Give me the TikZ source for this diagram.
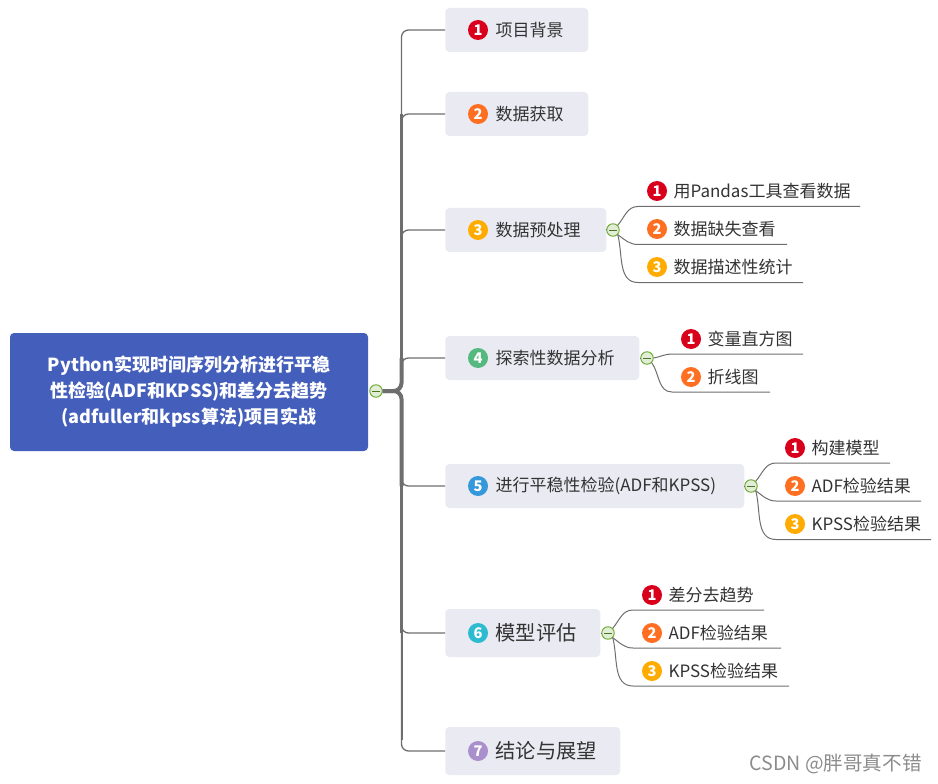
\documentclass[tikz,border=0pt]{standalone}
\usepackage{xcolor}
\usepackage{fontspec}
\setmainfont{Noto Sans CJK SC}
\usetikzlibrary{positioning}

\definecolor{rootblue}{HTML}{445FBB}
\definecolor{topicfill}{HTML}{EAEAF3}
\definecolor{linegray}{HTML}{6E6E6E}
\definecolor{hubgreen}{HTML}{6AA82F}
\definecolor{hubfill}{HTML}{E2EDD8}
\definecolor{textgray}{HTML}{333333}
\definecolor{badgered}{HTML}{D9001B}
\definecolor{badgeorange}{HTML}{FF6F21}
\definecolor{badgeamber}{HTML}{FFAB00}
\definecolor{badgegreen}{HTML}{55B97F}
\definecolor{badgeblue}{HTML}{3498DB}
\definecolor{badgeteal}{HTML}{2DBBD0}
\definecolor{badgepurple}{HTML}{A98FCB}

\def\px{0.75pt}

\tikzset{
    topic/.style={fill=topicfill, rounded corners=3pt, anchor=west, inner sep=0pt, minimum height=44*\px},
    badge/.style={circle, inner sep=0pt, minimum size=20*\px, text=white, font=\fontsize{11}{11}\selectfont\bfseries},
    toptext/.style={right=7*\px of #1, inner sep=0pt, text=textgray, font=\fontsize{12.75}{14}\selectfont},
    bigtext/.style={right=7*\px of #1, inner sep=0pt, text=textgray, font=\fontsize{15.2}{17}\selectfont},
    subtext/.style={right=6*\px of #1, inner sep=0pt, text=textgray, font=\fontsize{12.75}{14}\selectfont},
    hub/.style={circle, draw=hubgreen, fill=hubfill, line width=0.7pt, inner sep=0pt, minimum size=12.5*\px,
        path picture={\draw[hubgreen!70!black, line width=0.7pt] ([xshift=-4*\px]path picture bounding box.center) -- ([xshift=4*\px]path picture bounding box.center);}},
    branch/.style={draw=linegray, line width=1.3*\px, rounded corners=7*\px},
    twig/.style={draw=linegray, line width=1*\px},
}

\begin{document}
\begin{tikzpicture}[x=0.75pt, y=-0.75pt]

    \useasboundingbox (0,0) rectangle (938,784);

    % root
    \node (root) [fill=rootblue, rounded corners=3pt, minimum width=358*\px, minimum height=118*\px, inner sep=0pt,
        text=white, align=center, font=\fontsize{13.5}{19.5}\selectfont\bfseries] at (189,392)
        {Python实现时间序列分析进行平稳\\性检验(ADF和KPSS)和差分去趋势\\(adfuller和kpss算法)项目实战};
    \node (hub0) [hub] at (376,391) {};

    % topics
    \node (p1) [topic, minimum width=143*\px] at (445,30) {};
    \node (p2) [topic, minimum width=143*\px] at (445,114) {};
    \node (p3) [topic, minimum width=161*\px] at (445,230) {};
    \node (p4) [topic, minimum width=194*\px] at (445,358) {};
    \node (p5) [topic, minimum width=299*\px] at (445,486) {};
    \node (p6) [topic, minimum width=155*\px, minimum height=48*\px] at (445,633) {};
    \node (p7) [topic, minimum width=175*\px, minimum height=48*\px] at (445,751) {};

    \node (b1) [badge, fill=badgered] at (478,30) {1};
    \node (b2) [badge, fill=badgeorange] at (478,114) {2};
    \node (b3) [badge, fill=badgeamber] at (478,230) {3};
    \node (b4) [badge, fill=badgegreen] at (478,358) {4};
    \node (b5) [badge, fill=badgeblue] at (478,486) {5};
    \node (b6) [badge, fill=badgeteal] at (478,633) {6};
    \node (b7) [badge, fill=badgepurple] at (478,751) {7};

    \node (t1) [toptext=b1] {项目背景};
    \node (t2) [toptext=b2] {数据获取};
    \node (t3) [toptext=b3] {数据预处理};
    \node (t4) [toptext=b4] {探索性数据分析};
    \node (t5) [toptext=b5] {进行平稳性检验(ADF和KPSS)};
    \node (t6) [bigtext=b6] {模型评估};
    \node (t7) [bigtext=b7] {结论与展望};

    % trunk, thinner towards the ends
    \draw [linegray, line width=4*\px, rounded corners=8*\px] (hub0.east) -| (401.5,358);
    \draw [linegray, line width=4*\px, rounded corners=8*\px] (hub0.east) -| (401.5,486);
    \draw [linegray, line width=3.2*\px] (401.5,359) -- (401.5,230);
    \draw [linegray, line width=2.4*\px] (401.5,231) -- (401.5,114);
    \draw [linegray, line width=3*\px] (401.5,485) -- (401.5,633);
    \draw [linegray, line width=2*\px] (401.5,632) -- (401.5,740);
    \draw [linegray, line width=1.8*\px] (401.5,115) -- (401.5,40);
    \draw [branch] (401.5,120) |- (p1.west);
    \draw [branch] (401.5,125) |- (p2.west);
    \draw [branch] (401.5,240) |- (p3.west);
    \draw [branch] (401.5,370) |- (p4.west);
    \draw [branch] (401.5,470) |- (p5.west);
    \draw [branch] (401.5,620) |- (p6.west);
    \draw [branch] (401.5,625) |- (p7.west);

    % group 3
    \node (hub3) [hub] at (613,230) {};
    \node (b31) [badge, fill=badgered] at (657,191) {1};
    \node (b32) [badge, fill=badgeorange] at (657,229) {2};
    \node (b33) [badge, fill=badgeamber] at (657,267) {3};
    \node (t31) [subtext=b31] {用Pandas工具查看数据};
    \node (t32) [subtext=b32] {数据缺失查看};
    \node (t33) [subtext=b33] {数据描述性统计};
    \coordinate (s31) at (638,206.5); \coordinate (e31) at (860,206.5);
    \coordinate (s32) at (638,244.5); \coordinate (e32) at (787,244.5);
    \coordinate (s33) at (638,282.5); \coordinate (e33) at (803,282.5);
    \draw [twig] (p3.east) -- (hub3.west);
    \draw [twig] (hub3.north east) to [out=50, in=180] (s31) -- (e31);
    \draw [twig] (hub3.south east) to [out=-35, in=180] (s32) -- (e32);
    \draw [twig] (hub3.south east) to [out=-75, in=180] (s33) -- (e33);

    % group 4
    \node (hub4) [hub] at (647,358) {};
    \node (b41) [badge, fill=badgered] at (691,339) {1};
    \node (b42) [badge, fill=badgeorange] at (691,377) {2};
    \node (t41) [subtext=b41] {变量直方图};
    \node (t42) [subtext=b42] {折线图};
    \coordinate (s41) at (672,354); \coordinate (e41) at (803,354);
    \coordinate (s42) at (672,392); \coordinate (e42) at (770,392);
    \draw [twig] (p4.east) -- (hub4.west);
    \draw [twig] (hub4.east) to [out=10, in=180] (s41) -- (e41);
    \draw [twig] (hub4.south east) to [out=-55, in=180] (s42) -- (e42);

    % group 5
    \node (hub5) [hub] at (751,486) {};
    \node (b51) [badge, fill=badgered] at (795,448) {1};
    \node (b52) [badge, fill=badgeorange] at (795,486) {2};
    \node (b53) [badge, fill=badgeamber] at (795,524) {3};
    \node (t51) [subtext=b51] {构建模型};
    \node (t52) [subtext=b52] {ADF检验结果};
    \node (t53) [subtext=b53] {KPSS检验结果};
    \coordinate (s51) at (776,463); \coordinate (e51) at (890,463);
    \coordinate (s52) at (776,501); \coordinate (e52) at (921,501);
    \coordinate (s53) at (776,539.5); \coordinate (e53) at (931,539.5);
    \draw [twig] (p5.east) -- (hub5.west);
    \draw [twig] (hub5.north east) to [out=50, in=180] (s51) -- (e51);
    \draw [twig] (hub5.south east) to [out=-35, in=180] (s52) -- (e52);
    \draw [twig] (hub5.south east) to [out=-75, in=180] (s53) -- (e53);

    % group 6
    \node (hub6) [hub] at (608,633) {};
    \node (b61) [badge, fill=badgered] at (652,595) {1};
    \node (b62) [badge, fill=badgeorange] at (652,633) {2};
    \node (b63) [badge, fill=badgeamber] at (652,671) {3};
    \node (t61) [subtext=b61] {差分去趋势};
    \node (t62) [subtext=b62] {ADF检验结果};
    \node (t63) [subtext=b63] {KPSS检验结果};
    \coordinate (s61) at (633,610); \coordinate (e61) at (764,610);
    \coordinate (s62) at (633,648); \coordinate (e62) at (781,648);
    \coordinate (s63) at (633,686); \coordinate (e63) at (789,686);
    \draw [twig] (p6.east) -- (hub6.west);
    \draw [twig] (hub6.north east) to [out=50, in=180] (s61) -- (e61);
    \draw [twig] (hub6.south east) to [out=-35, in=180] (s62) -- (e62);
    \draw [twig] (hub6.south east) to [out=-75, in=180] (s63) -- (e63);

    % watermark
    \node (mark) [anchor=east, inner sep=0pt, text=black!45, font=\fontsize{14.7}{16}\selectfont] at (922,764) {CSDN @胖哥真不错};

\end{tikzpicture}
\end{document}
